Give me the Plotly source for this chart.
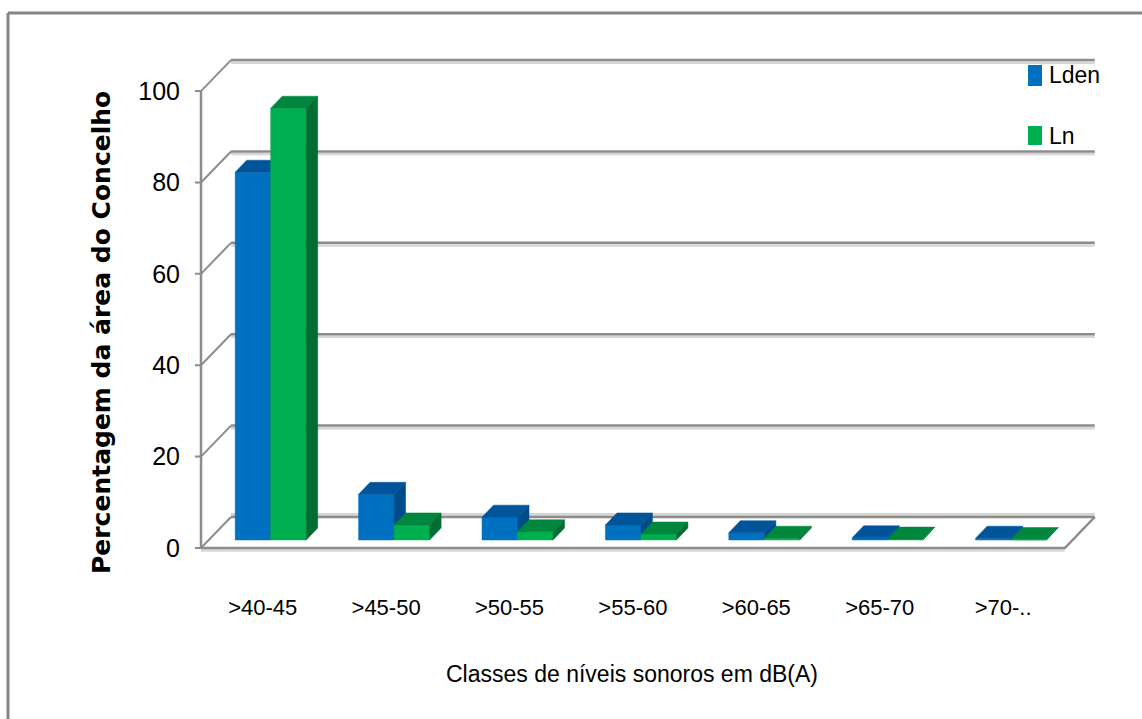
import plotly.graph_objects as go

# ---- data -------------------------------------------------------------
categories = [">40-45", ">45-50", ">50-55", ">55-60", ">60-65", ">65-70", ">70-.."]
lden = [80.5, 10.0, 5.0, 3.3, 1.6, 0.5, 0.4]
ln = [94.5, 3.3, 1.8, 1.3, 0.4, 0.2, 0.1]
y_ticks = [0, 20, 40, 60, 80, 100]

series = [
    ("Lden", lden, {"front": "#0070C0", "top": "#00559A", "side": "#004C8A"}),
    ("Ln", ln, {"front": "#00B050", "top": "#00863D", "side": "#006E33"}),
]

# ---- page geometry (pixels) -------------------------------------------
W, H = 1142, 719
SX = 123.4          # pixels per category
SY = 4.569          # pixels per percentage point
AX_LEFT, AX_BOTTOM = 201, 548      # front-left corner of the floor
PLOT_L, PLOT_R, PLOT_T, PLOT_B = 189, 1101, 56, 553

xr = [-0.5 - (AX_LEFT - PLOT_L) / SX, -0.5 + (PLOT_R - AX_LEFT) / SX]
yr = [-(PLOT_B - AX_BOTTOM) / SY, (AX_BOTTOM - PLOT_T) / SY]

# oblique depth of the box and of each bar, converted to data units
DX, DY = 30 / SX, 31 / SY
FX, FY = 8 / SX, 8 / SY          # bar front face offset into the box
BX, BY = 11.5 / SX, 12 / SY      # bar depth
BW = 35.5 / SX                   # bar width

n = len(categories)
x_first, x_last = -0.5, n - 0.5
top_val = y_ticks[-1]

GRID = "#8c8c8c"
GRID_LIGHT = "#d6d6d6"


def px_to_paper(px, py):
    return ((px - PLOT_L) / (PLOT_R - PLOT_L), 1 - (py - PLOT_T) / (PLOT_B - PLOT_T))


fig = go.Figure()


def add_line(xs, ys, color, width):
    fig.add_trace(go.Scatter(x=xs, y=ys, mode="lines", line=dict(color=color, width=width),
                             hoverinfo="skip", showlegend=False))


def add_poly(xs, ys, color):
    fig.add_trace(go.Scatter(x=xs + [xs[0]], y=ys + [ys[0]], mode="lines", fill="toself",
                             fillcolor=color, line=dict(color=color, width=0.5),
                             hoverinfo="skip", showlegend=False))


# back wall gridlines with a soft shadow
light_off = 2.6 / SY
for v in y_ticks:
    if v == 0:
        add_line([x_first + DX, x_last + DX], [DY + light_off, DY + light_off], GRID_LIGHT, 3)
    else:
        add_line([x_first + DX, x_last + DX], [v + DY - light_off, v + DY - light_off], GRID_LIGHT, 2.5)
    add_line([x_first + DX, x_last + DX], [v + DY, v + DY], GRID, 2.5)

# side wall: tick marks and diagonals toward the back wall
tick_len = 6 / SX
for v in y_ticks:
    add_line([x_first - tick_len, x_first, x_first + DX], [v, v, v + DY], GRID, 2)

# front vertical axis
add_line([x_first, x_first], [0, top_val], GRID, 2.5)

# floor front edge and right edge
add_line([x_first, x_last], [-light_off, -light_off], GRID_LIGHT, 2.5)
add_line([x_first, x_last, x_last + DX], [0, 0, DY], GRID, 2.5)

# 3-D columns
for i in range(n):
    for s, (name, vals, col) in enumerate(series):
        v = vals[i]
        x0 = i + FX - BW + s * BW
        x1 = x0 + BW
        y0 = FY
        y1 = FY + v
        add_poly([x0, x1, x1, x0], [y0, y0, y1, y1], col["front"])
        add_poly([x0, x1, x1 + BX, x0 + BX], [y1, y1, y1 + BY, y1 + BY], col["top"])
        add_poly([x1, x1 + BX, x1 + BX, x1], [y0, y0 + BY, y1 + BY, y1], col["side"])

FONT = "Liberation Sans, Arial, sans-serif"

shapes = []
annotations = []

# legend
legend_rows = [(series[0], 65, 86), (series[1], 126, 145)]
for (name, vals, col), top_px, bot_px in legend_rows:
    ax0, ay0 = px_to_paper(1028, top_px)
    ax1, ay1 = px_to_paper(1042, bot_px)
    shapes.append(dict(type="rect", xref="paper", yref="paper", x0=ax0, x1=ax1, y0=ay1, y1=ay0,
                       fillcolor=col["front"], line=dict(width=0)))
    tx, ty = px_to_paper(1047, (top_px + bot_px) / 2)
    annotations.append(dict(text=name, x=tx, y=ty, xref="paper", yref="paper", showarrow=False,
                            xanchor="left", yanchor="middle",
                            font=dict(family=FONT, size=23, color="#000000")))

# outer frame (top and left edges)
fx0, fy0 = px_to_paper(8, 13)
fx1, _ = px_to_paper(W + 5, 13)
_, fy1 = px_to_paper(8, H + 5)
shapes.append(dict(type="line", xref="paper", yref="paper", x0=fx0, x1=fx1, y0=fy0, y1=fy0,
                   line=dict(color="#858585", width=3)))
shapes.append(dict(type="line", xref="paper", yref="paper", x0=fx0, x1=fx0, y0=fy0, y1=fy1,
                   line=dict(color="#858585", width=3)))

# axis titles
tx, ty = px_to_paper(632, 674)
annotations.append(dict(text="Classes de níveis sonoros em dB(A)", x=tx, y=ty, xref="paper", yref="paper",
                        showarrow=False, xanchor="center", yanchor="middle",
                        font=dict(family=FONT, size=23, color="#000000")))
tx, ty = px_to_paper(101, 333)
annotations.append(dict(text="<b>Percentagem da área do Concelho</b>", x=tx, y=ty, xref="paper", yref="paper",
                        showarrow=False, xanchor="center", yanchor="middle", textangle=-90,
                        font=dict(family="DejaVu Sans", size=25, color="#000000")))

fig.update_layout(
    width=W, height=H,
    margin=dict(l=PLOT_L, r=W - PLOT_R, t=PLOT_T, b=H - PLOT_B, pad=0),
    paper_bgcolor="white", plot_bgcolor="white",
    showlegend=False,
    shapes=shapes, annotations=annotations,
    xaxis=dict(range=xr, tickvals=list(range(n)), ticktext=categories, showgrid=False,
               zeroline=False, showline=False, ticks="", ticklabelstandoff=39,
               tickfont=dict(family=FONT, size=22, color="#000000"), fixedrange=True),
    yaxis=dict(range=yr, tickvals=y_ticks, showgrid=False, zeroline=False, showline=False,
               ticks="", ticklabelstandoff=8,
               tickfont=dict(family=FONT, size=25, color="#000000"), fixedrange=True),
)

fig.write_html("out.html")
